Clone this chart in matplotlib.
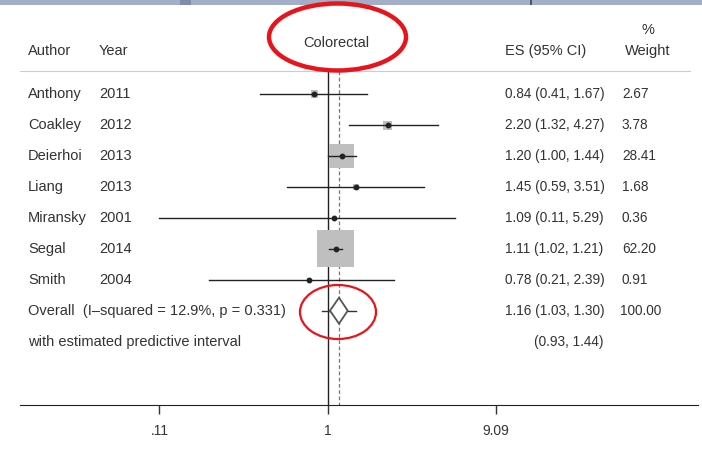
import matplotlib.pyplot as plt
from matplotlib.patches import Polygon, Ellipse, Rectangle
import matplotlib.transforms as mtransforms

plt.rcParams['font.family'] = ['Liberation Sans', 'DejaVu Sans']

# datos del forest plot
autores = ['Anthony', 'Coakley', 'Deierhoi', 'Liang', 'Miransky', 'Segal', 'Smith']
anios = ['2011', '2012', '2013', '2013', '2001', '2014', '2004']
es = [0.84, 2.20, 1.20, 1.45, 1.09, 1.11, 0.78]
li = [0.41, 1.32, 1.00, 0.59, 0.11, 1.02, 0.21]
ls = [1.67, 4.27, 1.44, 3.51, 5.29, 1.21, 2.39]
pesos = [2.67, 3.78, 28.41, 1.68, 0.36, 62.20, 0.91]

overall_es, overall_li, overall_ls = 1.16, 1.03, 1.30
pred_li, pred_ls = 0.93, 1.44
i2_texto = 'Overall  (I\u2013squared = 12.9%, p = 0.331)'
ticks = [0.11, 1, 9.09]
tick_labels = ['.11', '1', '9.09']

W, H = 702, 449
fig = plt.figure(figsize=(W / 100, H / 100), dpi=100)
ax = fig.add_axes([20 / W, 1 - 405 / H, 678 / W, (405 - 71) / H])
ax.set_xscale('log')
ax.set_xlim(0.01773, 128.1)
ax.set_ylim(10.05, -0.75)

n = len(autores)
for i in range(n):
    ax.plot([li[i], ls[i]], [i, i], color='#222222', lw=1, zorder=3)
    ax.scatter([es[i]], [i], s=pesos[i] / 62.2 * 700, marker='s',
               color='#bfbfbf', edgecolors='none', zorder=2)
    ax.plot(es[i], i, 'o', color='#222222', ms=3.2, zorder=4)

# overall
yo = n
ax.plot([pred_li, overall_li], [yo, yo], color='#333333', lw=1)
ax.plot([overall_ls, pred_ls], [yo, yo], color='#333333', lw=1)
dia = Polygon([(overall_li, yo), (overall_es, yo - 0.42), (overall_ls, yo),
               (overall_es, yo + 0.42)], closed=True, facecolor='white',
              edgecolor='#555555', lw=1.3, zorder=3)
ax.add_patch(dia)

ax.plot([1, 1], [-0.75, 10.05], color='#222222', lw=1, zorder=1)
ax.plot([overall_es, overall_es], [-0.75, 10.05], color='#777777', lw=0.9,
        ls=(0, (3, 2)), zorder=1)

ax.spines['left'].set_visible(False)
ax.spines['right'].set_visible(False)
ax.spines['top'].set_bounds(0.01773, 116)
ax.spines['top'].set_color('#cccccc')
ax.spines['bottom'].set_color('#222222')
ax.set_yticks([])
ax.set_xticks(ticks)
ax.set_xticklabels(tick_labels)
ax.minorticks_off()
ax.tick_params(axis='x', length=6.5, width=1, color='#333333', pad=7,
               labelsize=10, labelcolor='#333333')
ax.patch.set_visible(False)

# columnas de texto
tr = mtransforms.blended_transform_factory(fig.transFigure, ax.transData)
fs = 10.5
fn = 9.8
col = '#333333'
for i in range(n):
    ax.text(28 / W, i, autores[i], transform=tr, fontsize=fs, color=col, va='center')
    ax.text(99 / W, i, anios[i], transform=tr, fontsize=fs, color=col, va='center')
    ax.text(505 / W, i, f'{es[i]:.2f} ({li[i]:.2f}, {ls[i]:.2f})', transform=tr,
            fontsize=fn, color=col, va='center')
    ax.text(622 / W, i, f'{pesos[i]:.2f}', transform=tr, fontsize=fn, color=col, va='center')

ax.text(28 / W, yo, i2_texto, transform=tr, fontsize=fs, color=col, va='center')
ax.text(505 / W, yo, f'{overall_es:.2f} ({overall_li:.2f}, {overall_ls:.2f})',
        transform=tr, fontsize=fn, color=col, va='center')
ax.text(620 / W, yo, '100.00', transform=tr, fontsize=fn, color=col, va='center')
ax.text(28 / W, yo + 1, 'with estimated predictive interval', transform=tr,
        fontsize=fs, color=col, va='center')
ax.text(534 / W, yo + 1, f'({pred_li:.2f}, {pred_ls:.2f})', transform=tr,
        fontsize=fn, color=col, va='center')

# encabezados
fig.text(28 / W, 1 - 51 / H, 'Author', fontsize=fs, color=col, va='center')
fig.text(99 / W, 1 - 51 / H, 'Year', fontsize=fs, color=col, va='center')
fig.text(336 / W, 1 - 43 / H, 'Colorectal', fontsize=fs, color=col, va='center', ha='center')
fig.text(505 / W, 1 - 51 / H, 'ES (95% CI)', fontsize=fs, color=col, va='center')
fig.text(648 / W, 1 - 30 / H, '%', fontsize=fs, color=col, va='center', ha='center')
fig.text(648 / W, 1 - 51 / H, 'Weight', fontsize=fs, color=col, va='center', ha='center')

# franja de la captura y marcas rojas
fig.add_artist(Rectangle((0, 1 - 5 / H), 1, 5 / H, transform=fig.transFigure,
                         facecolor='#a3aec8', edgecolor='none'))
fig.add_artist(Rectangle((180 / W, 1 - 5 / H), 11 / W, 5 / H, transform=fig.transFigure,
                         facecolor='#7f8cae', edgecolor='none'))
fig.add_artist(Rectangle((530 / W, 1 - 5 / H), 1.5 / W, 5 / H, transform=fig.transFigure,
                         facecolor='#4a5470', edgecolor='none'))
fig.add_artist(Ellipse((337.5 / W, 1 - 37 / H), 137 / W, 67 / H, transform=fig.transFigure,
                       fill=False, edgecolor='#e8141b', lw=3.2))
fig.add_artist(Ellipse((338 / W, 1 - 312 / H), 76 / W, 54 / H, transform=fig.transFigure,
                       fill=False, edgecolor='#e8141b', lw=1.6))

fig.savefig('out.png', dpi=100)
